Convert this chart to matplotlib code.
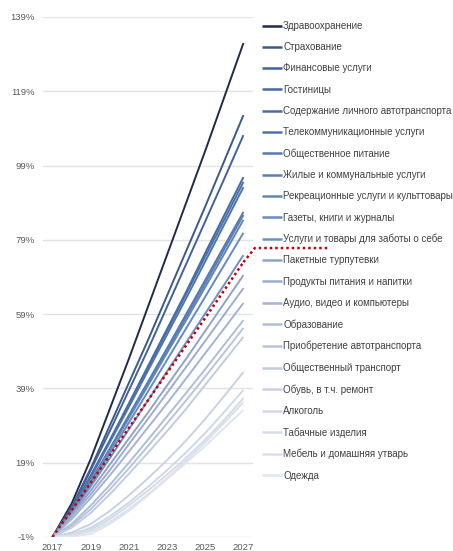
import matplotlib
matplotlib.use("Agg")
import matplotlib.pyplot as plt
from matplotlib.ticker import FixedLocator

plt.rcParams['font.family'] = ['Liberation Sans', 'DejaVu Sans']

years = list(range(2017, 2028))

categories = [
    "Здравоохранение",
    "Страхование",
    "Финансовые услуги",
    "Гостиницы",
    "Содержание личного автотранспорта",
    "Телекоммуникационные услуги",
    "Общественное питание",
    "Жилые и коммунальные услуги",
    "Рекреационные услуги и культтовары",
    "Газеты, книги и журналы",
    "Услуги и товары для заботы о себе",
    "Пакетные турпутевки",
    "Продукты питания и напитки",
    "Аудио, видео и компьютеры",
    "Образование",
    "Приобретение автотранспорта",
    "Общественный транспорт",
    "Обувь, в т.ч. ремонт",
    "Алкоголь",
    "Табачные изделия",
    "Мебель и домашняя утварь",
    "Одежда",
]

# cumulative price growth, %
zdravookhranenie = [-1, 8.0, 20.0, 33.5, 47.0, 61.0, 75.0, 89.0, 103.0, 117.5, 132.0]
strakhovanie     = [-1, 7.0, 17.5, 29.0, 40.5, 52.0, 64.0, 76.0, 88.0, 100.3, 112.6]
finansovye       = [-1, 6.8, 17.0, 27.5, 38.5, 49.5, 61.0, 72.5, 84.0, 95.5, 107.2]
gostinitsy       = [-1, 6.5, 15.5, 25.0, 35.0, 45.0, 55.0, 65.0, 75.5, 85.7, 95.9]
soderzhanie      = [-1, 6.5, 15.5, 25.0, 34.5, 44.5, 54.5, 64.5, 74.5, 84.5, 94.6]
telekom          = [-1, 6.3, 15.0, 24.5, 34.0, 43.8, 53.5, 63.3, 73.2, 83.2, 93.2]
obshchepit       = [-1, 6.0, 14.0, 22.8, 31.8, 40.8, 49.8, 59.0, 68.2, 77.4, 86.5]
zhilye           = [-1, 6.0, 14.0, 22.6, 31.5, 40.4, 49.3, 58.2, 67.3, 76.5, 85.7]
rekreatsionnye   = [-1, 5.8, 13.8, 22.3, 31.0, 39.8, 48.6, 57.4, 66.3, 75.3, 84.4]
gazety           = [-1, 5.6, 13.3, 21.4, 29.8, 38.2, 46.7, 55.2, 63.7, 72.3, 80.9]
zabota           = [-1, 5.4, 12.6, 20.2, 28.0, 35.8, 43.6, 51.4, 59.2, 67.0, 74.9]
paketnye         = [-1, 5.0, 11.5, 18.5, 25.5, 32.5, 39.8, 47.0, 54.5, 62.0, 69.5]
produkty         = [-1, 4.5, 10.5, 17.0, 24.0, 30.8, 37.8, 44.8, 51.8, 58.9, 66.0]
audio            = [-1, 3.8, 9.5, 15.6, 22.0, 28.5, 35.0, 41.7, 48.5, 55.2, 62.0]
obrazovanie      = [-1, 2.5, 7.5, 13.0, 19.0, 25.2, 31.5, 37.8, 44.2, 50.8, 57.4]
priobretenie     = [-1, 2.0, 6.5, 11.8, 17.5, 23.5, 29.6, 35.8, 42.2, 48.7, 55.3]
obshch_transport = [-1, 1.5, 5.5, 10.5, 16.0, 21.7, 27.5, 33.5, 40.0, 46.4, 52.9]
obuv             = [-1, 0.2, 2.5, 6.0, 10.2, 14.8, 19.7, 25.0, 30.8, 37.0, 43.4]
alkogol          = [-1, -0.3, 1.5, 4.5, 8.3, 12.5, 17.0, 21.8, 27.0, 32.7, 38.6]
tabak            = [-1, -0.5, 1.0, 3.8, 7.5, 11.5, 15.8, 20.3, 25.2, 30.6, 36.4]
mebel            = [-1, -0.6, 0.5, 3.0, 6.5, 10.5, 14.8, 19.5, 24.5, 29.8, 35.3]
odezhda          = [-1, -0.8, -0.2, 2.5, 6.0, 10.2, 14.6, 19.0, 23.5, 28.4, 33.2]

average = [-1, 6.2, 13.6, 21.0, 28.4, 35.8, 43.2, 50.6, 58.0, 65.5, 73.0]
# separator continuation of the average line into the legend
separator_x = [2027, 2027.6, 2031.5]
separator_y = [73.0, 76.8, 76.8]

series = [zdravookhranenie, strakhovanie, finansovye, gostinitsy, soderzhanie,
          telekom, obshchepit, zhilye, rekreatsionnye, gazety, zabota,
          paketnye, produkty, audio, obrazovanie, priobretenie,
          obshch_transport, obuv, alkogol, tabak, mebel, odezhda]

colors = ['#1E2B4A', '#3B5A88', '#41629A', '#4669A2', '#4A6FA8', '#4E74AD',
          '#5479B1', '#597FB6', '#5F85BA', '#658BBF', '#6C92C4',
          '#8FA3C8', '#9AAECF', '#A4B2D3', '#AEBDD8', '#B7C5DC', '#C0CCE0',
          '#C8D2E3', '#CFD8E6', '#D5DCE8', '#DAE0EB', '#DFE4EE']

y_ticks = [-1, 19, 39, 59, 79, 99, 119, 139]
x_ticks = [2017, 2019, 2021, 2023, 2025, 2027]

fig = plt.figure(figsize=(4.53, 5.51), dpi=100)
ax = fig.add_axes([43/453, 1 - 537/551, 210/453, 520/551])

lines = []
for vals, col, name in zip(series, colors, categories):
    ln, = ax.plot(years, vals, color=col, lw=1.4, label=name, solid_capstyle='butt')
    lines.append(ln)

ax.plot(years, average, color='#C0000A', lw=1.8, linestyle=(0, (1, 1.2)), zorder=5)
ax.plot(separator_x, separator_y, color='#C0000A', lw=1.8, linestyle=(0, (1, 1.2)),
        zorder=5, clip_on=False)

ax.set_xlim(2016.5, 2027.5)
ax.set_ylim(-1, 139)
ax.yaxis.set_major_locator(FixedLocator(y_ticks))
ax.set_yticklabels([f"{v}%" for v in y_ticks])
ax.set_xticks(x_ticks)
ax.set_xticklabels([str(v) for v in x_ticks])
ax.grid(axis='y', color='#E3E3E3', lw=1.0)
ax.set_axisbelow(True)
for s in ax.spines.values():
    s.set_visible(False)
ax.tick_params(axis='both', length=0, labelsize=6.8, colors='#595959')
ax.tick_params(axis='y', pad=6)
ax.tick_params(axis='x', pad=4)

leg = fig.legend(handles=lines, loc='upper left',
                 bbox_to_anchor=(262/453, 1 - 21/551),
                 frameon=False, fontsize=7.0, handlelength=2.05,
                 handletextpad=0.12, labelspacing=1.155, borderpad=0,
                 borderaxespad=0)
for t in leg.get_texts():
    t.set_color('#404040')
for h in leg.get_lines():
    h.set_linewidth(1.8)

fig.savefig("out.png", dpi=100)
